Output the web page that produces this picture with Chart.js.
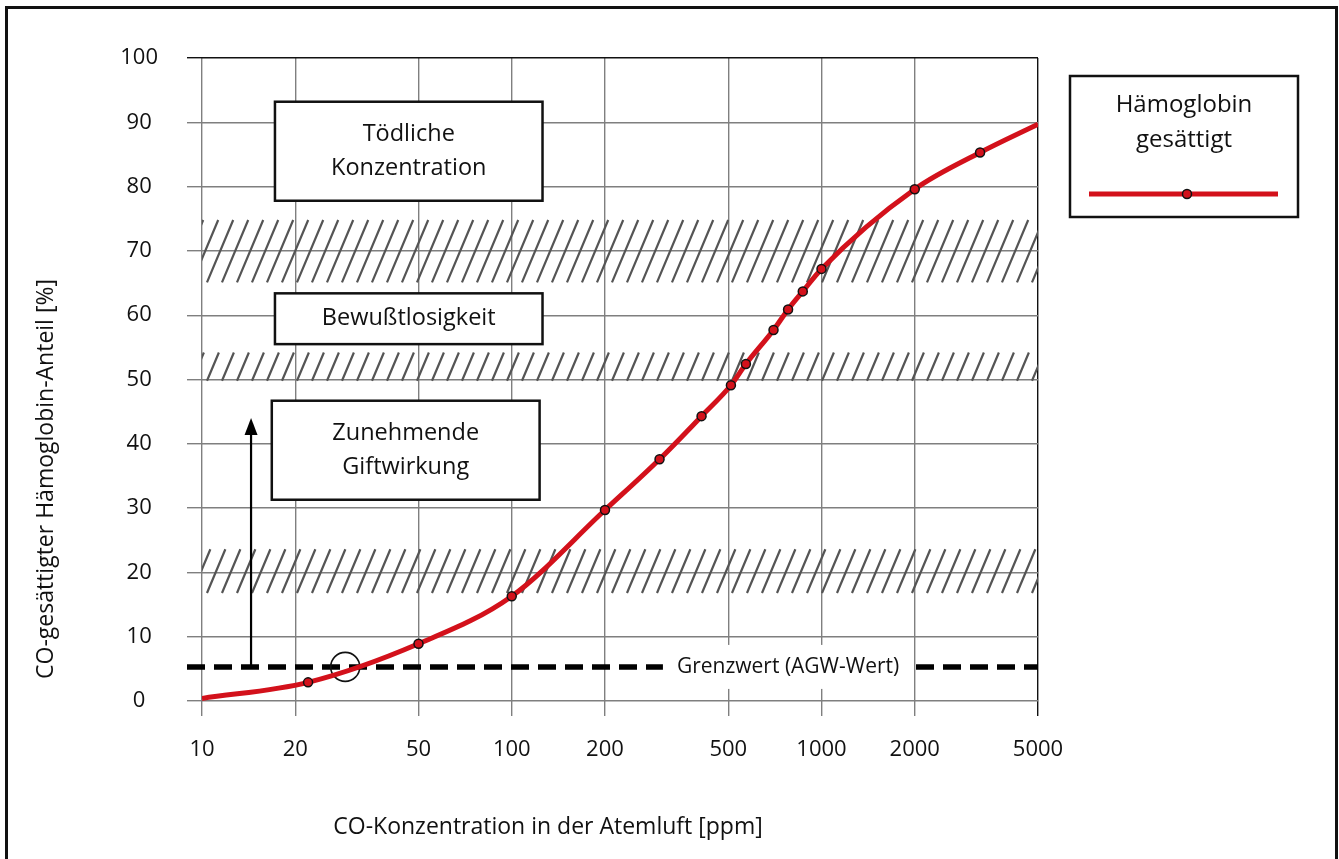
<!DOCTYPE html>
<html>
<head>
<meta charset="utf-8">
<script src="https://cdn.jsdelivr.net/npm/chart.js@4"></script>
<style>
  html, body { margin: 0; padding: 0; background: #fff; }
  #wrap { width: 1339px; height: 859px; }
</style>
</head>
<body>
<div id="wrap"><canvas id="coChart" width="1339" height="859"></canvas></div>
<script>
// =========================
// Data
// =========================

const ppmValues = [10, 22, 50, 100, 200, 300, 410, 510, 570, 700, 780, 870, 1000, 2000, 3250, 5000];
const hbPercent = [0.4, 2.9, 8.9, 16.3, 29.7, 37.6, 44.3, 49.1, 52.4, 57.7, 60.9, 63.7, 67.2, 79.6, 85.3, 89.7];

const xTickValues = [10, 20, 50, 100, 200, 500, 1000, 2000, 5000];
const yTickValues = [0, 10, 20, 30, 40, 50, 60, 70, 80, 90, 100];

// hatched bands (in %)
const bandLow  = [16.8, 49.8, 65.1];
const bandHigh = [23.6, 54.2, 74.8];

// limit value (AGW)
const agwPpm = 29;
const agwPercent = 5.3;
const agwLabel = "Grenzwert (AGW-Wert)";

const boxLabels = [["Tödliche", "Konzentration"], ["Bewußtlosigkeit"], ["Zunehmende", "Giftwirkung"]];
const legendLabel = ["Hämoglobin", "gesättigt"];
const xTitle = "CO-Konzentration in der Atemluft [ppm]";
const yTitle = "CO-gesättigter Hämoglobin-Anteil [%]";

// =========================
// Styling
// =========================

const FONT = "'Open Sans', 'Noto Sans', sans-serif";
const RED = "#d3111b";
const GRID = "#7f7f7f";

// box placement in data units: [ppm from, ppm to, % bottom, % top]
const boxPlace = [
  [17.2, 125.7, 77.8, 93.2],
  [17.2, 125.7, 55.5, 63.4],
  [16.8, 123.0, 31.3, 46.7]
];
const arrowPpm = 14.4;
const arrowTop = 44;
const agwLabelPpm = 780;

const lastIdx = ppmValues.length - 1;

// =========================
// Plugin: hatching, boxes, limit line, arrow, legend, titles, frame
// =========================

const decorPlugin = {
  id: "decor",
  beforeDatasetsDraw(chart) {
    const { ctx, chartArea: a, scales: { x, y } } = chart;

    // hatched bands
    ctx.save();
    ctx.beginPath();
    ctx.rect(a.left, a.top, a.right - a.left, a.bottom - a.top);
    ctx.clip();
    ctx.strokeStyle = "#555";
    ctx.lineWidth = 2.2;
    bandLow.forEach((lo, i) => {
      const top = y.getPixelForValue(bandHigh[i]);
      const bot = y.getPixelForValue(lo);
      const dx = (bot - top) * 0.42;
      ctx.beginPath();
      for (let px = a.left - 40; px < a.right + 40; px += 15) {
        ctx.moveTo(px, bot);
        ctx.lineTo(px + dx, top);
      }
      ctx.stroke();
    });
    ctx.restore();

    // text boxes
    ctx.save();
    ctx.font = "23.5px " + FONT;
    ctx.textAlign = "center";
    ctx.textBaseline = "middle";
    boxPlace.forEach((b, i) => {
      const x1 = x.getPixelForValue(b[0]);
      const x2 = x.getPixelForValue(b[1]);
      const y1 = y.getPixelForValue(b[3]);
      const y2 = y.getPixelForValue(b[2]);
      ctx.fillStyle = "#fff";
      ctx.fillRect(x1, y1, x2 - x1, y2 - y1);
      ctx.strokeStyle = "#111";
      ctx.lineWidth = 2.5;
      ctx.strokeRect(x1, y1, x2 - x1, y2 - y1);
      ctx.fillStyle = "#111";
      const lines = boxLabels[i];
      const lh = 34;
      const cy = (y1 + y2) / 2 - (lines.length - 1) * lh / 2;
      lines.forEach((t, k) => ctx.fillText(t, (x1 + x2) / 2, cy + k * lh));
    });
    ctx.restore();

    // limit value dashed line with label
    const yAgw = y.getPixelForValue(agwPercent);
    ctx.save();
    ctx.strokeStyle = "#000";
    ctx.lineWidth = 5.5;
    ctx.setLineDash([18, 9]);
    ctx.beginPath();
    ctx.moveTo(a.left - 15, yAgw);
    ctx.lineTo(a.right, yAgw);
    ctx.stroke();
    ctx.setLineDash([]);
    ctx.font = "21px " + FONT;
    const tw = ctx.measureText(agwLabel).width;
    const lx = x.getPixelForValue(agwLabelPpm);
    ctx.fillStyle = "#fff";
    ctx.fillRect(lx - tw / 2 - 14, yAgw - 22, tw + 28, 44);
    ctx.fillStyle = "#111";
    ctx.textAlign = "center";
    ctx.textBaseline = "middle";
    ctx.fillText(agwLabel, lx, yAgw);

    // arrow
    const ax = x.getPixelForValue(arrowPpm);
    const ayTop = y.getPixelForValue(arrowTop);
    ctx.lineWidth = 2.2;
    ctx.beginPath();
    ctx.moveTo(ax, yAgw);
    ctx.lineTo(ax, ayTop + 12);
    ctx.stroke();
    ctx.fillStyle = "#000";
    ctx.beginPath();
    ctx.moveTo(ax, ayTop);
    ctx.lineTo(ax - 6.5, ayTop + 17);
    ctx.lineTo(ax + 6.5, ayTop + 17);
    ctx.closePath();
    ctx.fill();
    ctx.restore();
  },
  afterDraw(chart) {
    const { ctx } = chart;
    const ds = chart.data.datasets[0];

    // axis titles
    ctx.save();
    ctx.fillStyle = "#111";
    ctx.font = "23px " + FONT;
    ctx.textAlign = "center";
    ctx.textBaseline = "middle";
    ctx.fillText(xTitle, 548, 827);
    ctx.translate(46, 479);
    ctx.rotate(-Math.PI / 2);
    ctx.fillText(yTitle, 0, 0);
    ctx.restore();

    // legend box
    ctx.save();
    ctx.fillStyle = "#fff";
    ctx.fillRect(1070, 76, 228, 141);
    ctx.strokeStyle = "#111";
    ctx.lineWidth = 2.5;
    ctx.strokeRect(1070, 76, 228, 141);
    ctx.fillStyle = "#111";
    ctx.font = "24px " + FONT;
    ctx.textAlign = "center";
    ctx.textBaseline = "middle";
    legendLabel.forEach((t, k) => ctx.fillText(t, 1184, 105 + k * 35));
    ctx.strokeStyle = ds.borderColor;
    ctx.lineWidth = ds.borderWidth;
    ctx.beginPath();
    ctx.moveTo(1089, 194);
    ctx.lineTo(1278, 194);
    ctx.stroke();
    ctx.beginPath();
    ctx.arc(1187, 194, 4.5, 0, Math.PI * 2);
    ctx.fillStyle = ds.pointBackgroundColor;
    ctx.fill();
    ctx.lineWidth = ds.pointBorderWidth;
    ctx.strokeStyle = ds.pointBorderColor;
    ctx.stroke();

    // outer frame (left, top, right)
    ctx.strokeStyle = "#111";
    ctx.lineWidth = 3;
    ctx.beginPath();
    ctx.moveTo(6.5, 870);
    ctx.lineTo(6.5, 7.5);
    ctx.lineTo(1336.5, 7.5);
    ctx.lineTo(1336.5, 870);
    ctx.stroke();
    ctx.restore();
  }
};

// =========================
// Create Chart
// =========================

const ctx = document.getElementById("coChart").getContext("2d");

const coChart = new Chart(ctx, {
  type: "line",
  data: {
    datasets: [{
      label: legendLabel.join(" "),
      data: ppmValues.map((v, i) => ({ x: v, y: hbPercent[i] })),
      borderColor: RED,
      borderWidth: 5,
      cubicInterpolationMode: "monotone",
      pointRadius: ppmValues.map((v, i) => (i === 0 || i === lastIdx ? 0 : 4.5)),
      pointBackgroundColor: RED,
      pointBorderColor: "#111",
      pointBorderWidth: 1.5,
      fill: false
    }, {
      label: "AGW",
      data: [{ x: agwPpm, y: agwPercent }],
      showLine: false,
      pointRadius: 14.5,
      pointBackgroundColor: "rgba(0,0,0,0)",
      pointBorderColor: "#111",
      pointBorderWidth: 1.6
    }]
  },
  options: {
    responsive: false,
    animation: false,
    devicePixelRatio: 1,
    layout: { padding: { left: 20, top: 58, right: 301, bottom: 10 } },
    plugins: {
      legend: { display: false },
      tooltip: { enabled: false }
    },
    scales: {
      x: {
        type: "logarithmic",
        min: 10,
        max: 5000,
        afterBuildTicks: (s) => { s.ticks = xTickValues.map(v => ({ value: v })); },
        afterFit: (s) => { s.height = 148; },
        border: { display: false },
        grid: {
          color: (c) => (c.tick && c.tick.value === 5000 ? "#111" : GRID),
          lineWidth: 1.4,
          tickLength: 15
        },
        ticks: {
          autoSkip: false,
          maxRotation: 0,
          padding: 21,
          color: "#111",
          font: { family: FONT, size: 22 },
          callback: (v) => String(v)
        }
      },
      y: {
        min: 0,
        max: 100,
        afterBuildTicks: (s) => { s.ticks = yTickValues.map(v => ({ value: v })); },
        afterFit: (s) => { s.width = 182; },
        border: { display: false },
        grid: {
          color: (c) => (c.tick && c.tick.value === 100 ? "#111" : GRID),
          lineWidth: 1.4,
          tickLength: 15
        },
        ticks: {
          padding: 29,
          crossAlign: "center",
          color: "#111",
          font: { family: FONT, size: 22 }
        }
      }
    }
  },
  plugins: [decorPlugin]
});
</script>
</body>
</html>
